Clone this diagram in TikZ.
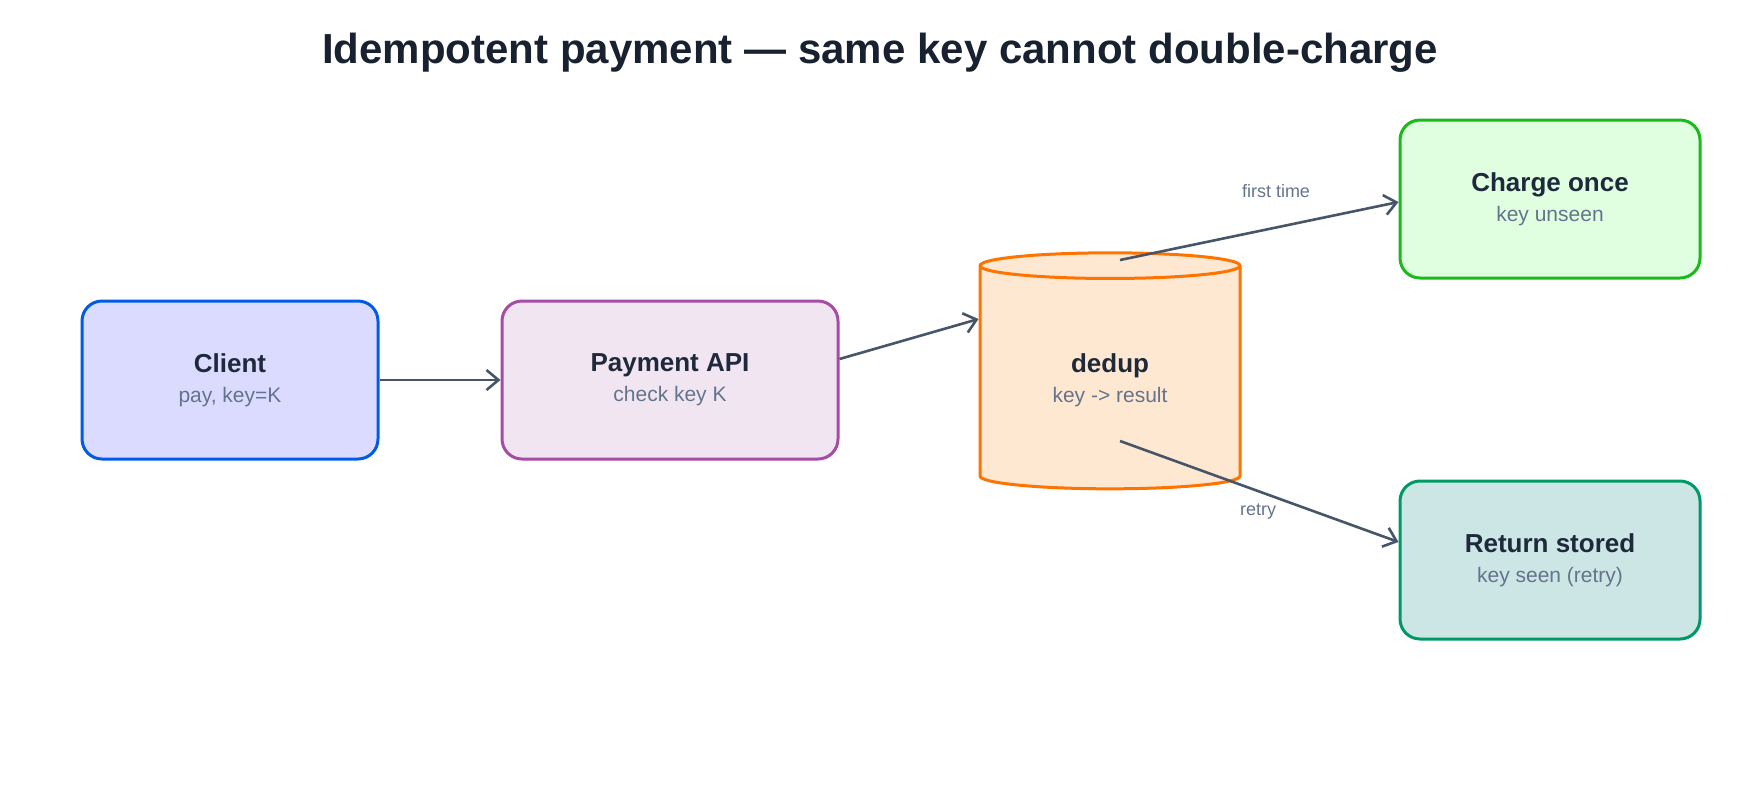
\documentclass[tikz,border=0pt]{standalone}
\usepackage{fontspec}
\setmainfont{Liberation Sans}
\usetikzlibrary{positioning, arrows.meta, shapes.geometric, calc}
\definecolor{ink}{HTML}{1E293B}
\definecolor{subink}{HTML}{64748B}
\definecolor{edge}{HTML}{475569}
\tikzset{
    stage/.style={rectangle, rounded corners=10pt, line width=1.5pt, align=center, minimum width=150pt, minimum height=79pt},
    arrow/.style={-{Straight Barb[length=6pt, width=10pt]}, line width=1.3pt, draw=edge},
    lbl/.style={font=\fontsize{9}{11}\selectfont, text=subink}
}
\newcommand{\stageText}[2]{{\fontsize{13}{15}\selectfont\bfseries\color{ink}#1}\\[3pt]{\fontsize{10.5}{13}\selectfont\color{subink}#2}}

\begin{document}
\begin{tikzpicture}[x=0.5pt, y=-0.5pt]
        \useasboundingbox (0,0) rectangle (1760,800);

        % Title
        \node[font=\fontsize{21}{25}\selectfont\bfseries, text=ink!80!black] (title) at (880,53) {Idempotent payment — same key cannot double-charge};

        % Stages
        \node[stage, draw=blue!60!cyan!90!black, fill=blue!14, minimum width=148pt] (client) at (230,380) {\stageText{Client}{pay, key=K}};
        \node[stage, draw=violet!70!white, fill=violet!10, minimum width=168pt] (api) at (670,380) {\stageText{Payment API}{check key K}};
        \node[cylinder, shape border rotate=90, aspect=0.2, draw=orange!90!red, fill=orange!18, line width=1.5pt, minimum width=130pt, minimum height=118pt, align=center] (dedup) at (1110,380) {\stageText{dedup}{key -> result}};
        \node[stage, draw=green!70!black!90, fill=green!12, minimum width=150pt] (charge) at (1550,199) {\stageText{Charge once}{key unseen}};
        \node[stage, draw=teal!80!green, fill=teal!20, minimum width=150pt] (stored) at (1550,560) {\stageText{Return stored}{key seen (retry)}};

        % Edges
        \coordinate (dtop) at (1120,260);
        \coordinate (dlow) at (1120,441);
        \draw[arrow] (client) -- (api);
        \draw[arrow] (api.east |- 0,359) -- (dedup.west |- 0,319);
        \draw[arrow] (dtop) -- (charge.west |- 0,202);
        \draw[arrow] (dlow) -- (stored.west |- 0,542);
        \node[lbl] (first) at (1276,191) {first time};
        \node[lbl] (retry) at (1258,512) {retry};

    \end{tikzpicture}
\end{document}
